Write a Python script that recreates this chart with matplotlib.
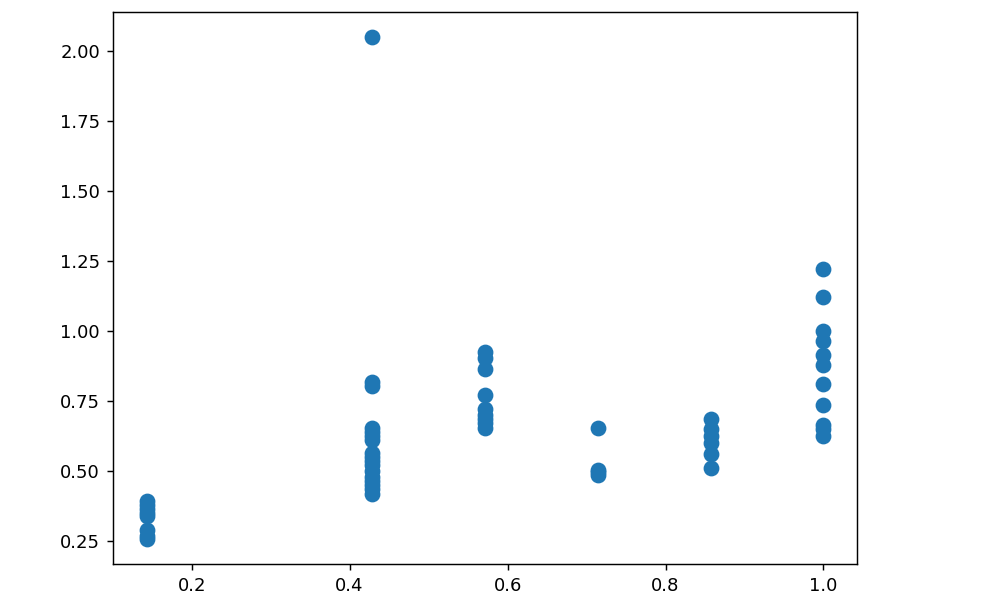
import matplotlib
matplotlib.use("Agg")
import matplotlib.pyplot as plt

# x groups (k/7)
x_groups = [1/7, 3/7, 4/7, 5/7, 6/7, 1.0]
y_groups = [
    [0.395, 0.38, 0.365, 0.35, 0.34, 0.29, 0.27, 0.257],
    [2.05, 0.818, 0.805, 0.655, 0.64, 0.625, 0.61, 0.565, 0.55, 0.535, 0.52,
     0.50, 0.48, 0.465, 0.45, 0.435, 0.42],
    [0.925, 0.905, 0.865, 0.77, 0.72, 0.70, 0.685, 0.67, 0.655],
    [0.655, 0.505, 0.495, 0.485],
    [0.685, 0.65, 0.625, 0.60, 0.56, 0.51],
    [1.22, 1.12, 1.0, 0.965, 0.915, 0.88, 0.81, 0.735, 0.665, 0.65, 0.625],
]

xs, ys = [], []
for xv, yl in zip(x_groups, y_groups):
    for yv in yl:
        xs.append(xv)
        ys.append(yv)

dpi = 130
fig = plt.figure(figsize=(988 / dpi, 612 / dpi), dpi=dpi)
ax = fig.add_axes([112.7 / 988, 1 - 564.3 / 612, (857.3 - 112.7) / 988, (564.3 - 11.7) / 612])
ax.scatter(xs, ys, s=60, color="#1f77b4")
fig.savefig("out.png", dpi=dpi)
